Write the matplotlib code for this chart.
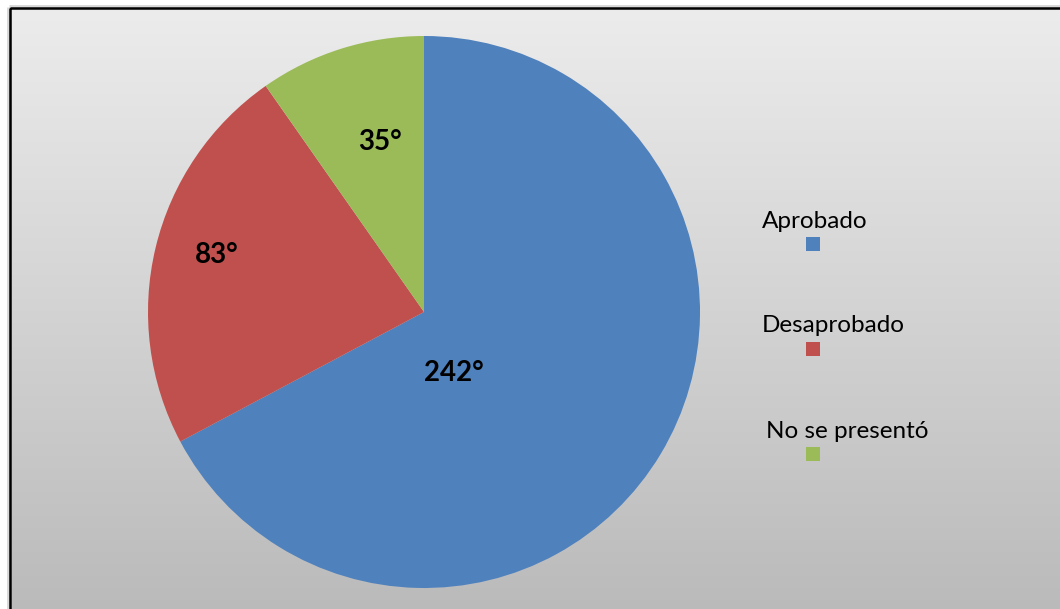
import numpy as np
import matplotlib
matplotlib.use("Agg")
import matplotlib.pyplot as plt
from matplotlib.patches import Rectangle
from matplotlib.colors import LinearSegmentedColormap

categories = ["Aprobado", "Desaprobado", "No se presentó"]
degrees = [242, 83, 35]
colors = ["#4F81BD", "#C0504D", "#9BBB59"]

W, H = 1060, 609
fig = plt.figure(figsize=(W / 100, H / 100), dpi=100)
fig.patch.set_facecolor("white")

# Gradient chart area with a dark frame
bg = fig.add_axes([0, 0, 1, 1])
bg.axis("off")
x0, y0 = 10, 8
grad = np.linspace(0, 1, 256).reshape(-1, 1)
cmap = LinearSegmentedColormap.from_list("g", ["#ececec", "#bababa"])
bg.imshow(grad, cmap=cmap, extent=[x0, W + 5, H + 5, y0], aspect="auto", zorder=0)
bg.add_patch(Rectangle((x0 - 1, y0 - 1), W - x0 + 10, H - y0 + 10, fill=False,
                       edgecolor="#d8d8d8", linewidth=3.5, zorder=1))
bg.add_patch(Rectangle((x0, y0), W - x0 + 10, H - y0 + 10, fill=False,
                       edgecolor="black", linewidth=1.8, zorder=2))
bg.set_xlim(0, W)
bg.set_ylim(H, 0)

# Pie
cx, cy, R = 424, 312, 276
ax = fig.add_axes([(cx - R) / W, 1 - (cy + R) / H, 2 * R / W, 2 * R / H])
ax.set_facecolor("none")
wedges, _ = ax.pie(degrees, colors=colors, startangle=90, counterclock=False,
                   radius=1, wedgeprops=dict(linewidth=0))
ax.set_xlim(-1, 1)
ax.set_ylim(-1, 1)
ax.set_aspect("equal")
ax.axis("off")

label_pos = [(0.11, -0.22), (-0.75, 0.205), (-0.16, 0.615)]
for (lx, ly), d in zip(label_pos, degrees):
    ax.text(lx, ly, f"{d}°", ha="center", va="center", fontsize=20,
            fontweight="bold", family="Lato", color="black")

# Legend: label above a colored square
leg_x = [762, 762, 766]
leg_y = [221, 326, 431]
for name, c, tx, ty in zip(categories, colors, leg_x, leg_y):
    bg.text(tx, ty, name, ha="left", va="center", fontsize=17.5,
            family="Lato", color="black")
    bg.add_patch(Rectangle((806, ty + 16), 14, 14, facecolor=c, edgecolor="none", zorder=3))

fig.savefig("out.png", dpi=100)
